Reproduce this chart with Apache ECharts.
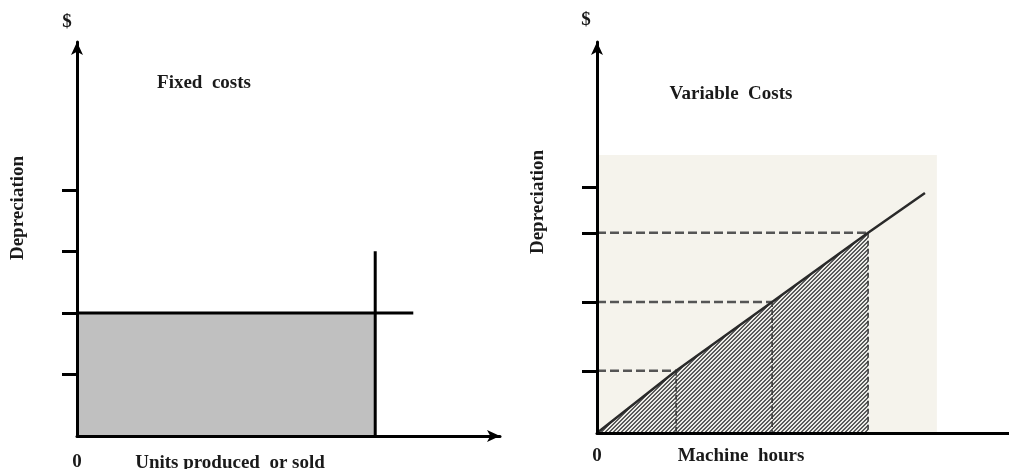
<!DOCTYPE html>
<html><head><meta charset="utf-8">
<script src="https://cdn.jsdelivr.net/npm/echarts@6/dist/echarts.min.js"></script>
<style>html,body{margin:0;padding:0;background:#fff}#c{width:1009px;height:469px}</style>
</head><body><div id="c"></div>
<script>
// ---- Left panel: fixed costs ----
const leftTicks = [1, 2, 3, 4];
const fixedCost = 2;
const capacityUnits = 70.5;
const capacityTop = 3;
const fixedLineEnd = 79.5;
const leftYMax = 6.4;
const leftXMax = 100;

// ---- Right panel: variable costs ----
const rightTicks = [15.9, 33.5, 51.2, 62.9];
const machineHours = [0, 19.2, 42.5, 65.8, 79.6];
const depreciation = [0, 15.9, 33.5, 51.2, 61.4];
const markedPoints = [1, 2, 3];
const hatchedUntil = 3;
const scanBox = [82.5, 71.1];
const rightYMax = 100;
const rightXMax = 100;

const FONT = 'bold 19px "Liberation Serif", "DejaVu Serif", serif';
const INK = '#1a1a1a';

// hatch pattern
const pat = document.createElement('canvas');
pat.width = 4; pat.height = 4;
const pc = pat.getContext('2d');
const img = pc.createImageData(4, 4);
for (let y = 0; y < 4; y++) for (let x = 0; x < 4; x++) {
  const dark = ((x + y) % 4) < 2;
  const i = (y * 4 + x) * 4;
  const v = dark ? [90, 90, 90] : [236, 235, 230];
  img.data[i] = v[0]; img.data[i+1] = v[1]; img.data[i+2] = v[2]; img.data[i+3] = 255;
}
pc.putImageData(img, 0, 0);

const chart = echarts.init(document.getElementById('c'), null, {renderer: 'canvas'});

function axisCommon(ticks, arrow) {
  return {
    z: 10,
    axisLine: {show: true, onZero: false, symbol: arrow ? ['none', 'arrow'] : 'none', symbolSize: [9, 13],
      lineStyle: {color: '#000', width: 3}},
    axisTick: {show: ticks.length > 0, customValues: ticks, length: 15, inside: false, lineStyle: {color: '#000', width: 3}},
    splitLine: {show: false},
  };
}

const zeroLabel = {show: true, customValues: [0], formatter: () => '0', color: INK,
  fontFamily: '"Liberation Serif", serif', fontWeight: 'bold', fontSize: 19};

const xy = (xs, ys, idx) => idx.map(i => [xs[i], ys[i]]);

const series = [
  // left
  {type: 'line', xAxisIndex: 0, yAxisIndex: 0, symbol: 'none', silent: true, z: 2,
   data: [[0, fixedCost], [capacityUnits, fixedCost]],
   lineStyle: {width: 0}, areaStyle: {color: '#c0c0c0', opacity: 1}},
  {type: 'line', xAxisIndex: 0, yAxisIndex: 0, symbol: 'none', silent: true, z: 3,
   data: [[0, fixedCost], [fixedLineEnd, fixedCost]], lineStyle: {color: '#000', width: 3}},
  {type: 'line', xAxisIndex: 0, yAxisIndex: 0, symbol: 'none', silent: true, z: 3,
   data: [[capacityUnits, 0], [capacityUnits, capacityTop]], lineStyle: {color: '#000', width: 3}},
  // right background (scanned page)
  {type: 'line', xAxisIndex: 1, yAxisIndex: 1, symbol: 'none', silent: true, z: 1,
   data: [[0, 0]], lineStyle: {width: 0},
   markArea: {silent: true, itemStyle: {color: '#f5f3ec'},
     data: [[{coord: [0, 0]}, {coord: scanBox}]]}},
  // hatched area
  {type: 'line', xAxisIndex: 1, yAxisIndex: 1, symbol: 'none', silent: true, z: 2,
   data: xy(machineHours, depreciation, [0, 1, 2, hatchedUntil]),
   lineStyle: {width: 0}, areaStyle: {color: {image: pat, repeat: 'repeat'}, opacity: 1}},
  // cost line
  {type: 'line', xAxisIndex: 1, yAxisIndex: 1, symbol: 'none', silent: true, z: 4,
   data: machineHours.map((h, i) => [h, depreciation[i]]),
   lineStyle: {color: '#2a2a2a', width: 2.5}},
];
markedPoints.forEach(i => {
  series.push({type: 'line', xAxisIndex: 1, yAxisIndex: 1, symbol: 'none', silent: true, z: 3,
    data: [[0, depreciation[i]], [machineHours[i], depreciation[i]]],
    lineStyle: {color: '#555', width: 2.5, type: [9, 4]}});
  series.push({type: 'line', xAxisIndex: 1, yAxisIndex: 1, symbol: 'none', silent: true, z: 3,
    data: [[machineHours[i], depreciation[i]], [machineHours[i], 0]],
    lineStyle: {color: '#333', width: 1.5, type: [5, 3]}});
});

function txt(text, x, y, rot) {
  return {type: 'text', x, y, rotation: rot || 0, silent: true, z: 10,
    style: {text, x: 0, y: 0, font: FONT, fill: INK, align: 'center', verticalAlign: 'middle'}};
}

chart.setOption({
  animation: false,
  backgroundColor: '#fff',
  grid: [
    {left: 77, top: 42, width: 423, height: 394, containLabel: false, outerBoundsMode: 'none'},
    {left: 597, top: 42, right: 0, height: 391, containLabel: false, outerBoundsMode: 'none'}
  ],
  xAxis: [
    Object.assign({type: 'value', gridIndex: 0, min: 0, max: leftXMax, axisLabel: Object.assign({margin: 17}, zeroLabel)},
      axisCommon([], true)),
    Object.assign({type: 'value', gridIndex: 1, min: 0, max: rightXMax, axisLabel: Object.assign({margin: 14}, zeroLabel)},
      axisCommon([], false))
  ],
  yAxis: [
    Object.assign({type: 'value', gridIndex: 0, min: 0, max: leftYMax, axisLabel: {show: false}}, axisCommon(leftTicks, true)),
    Object.assign({type: 'value', gridIndex: 1, min: 0, max: rightYMax, axisLabel: {show: false}}, axisCommon(rightTicks, true))
  ],
  series,
  graphic: [
    txt('$', 67, 22),
    txt('Fixed  costs', 204, 83),
    txt('Depreciation', 18, 208, Math.PI / 2),
    txt('Units produced  or sold', 230, 463),
    txt('$', 586, 20),
    txt('Variable  Costs', 731, 94),
    txt('Depreciation', 538, 202, Math.PI / 2),
    txt('Machine  hours', 741, 456)
  ]
});
</script></body></html>
